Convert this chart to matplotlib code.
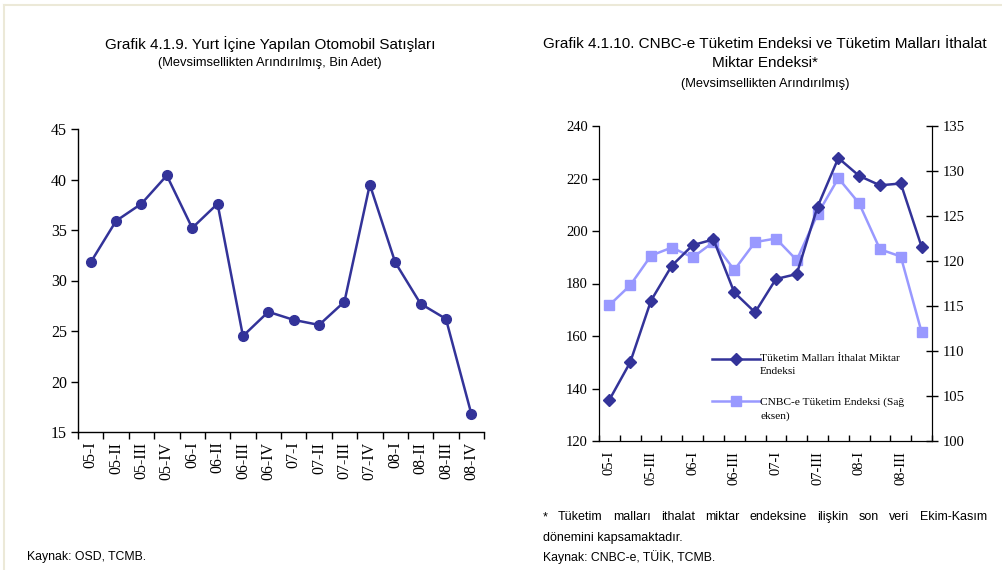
import matplotlib
matplotlib.use('Agg')
import matplotlib.pyplot as plt
from matplotlib.lines import Line2D
import numpy as np

# quarters for both charts
quarters = ['05-I', '05-II', '05-III', '05-IV', '06-I', '06-II', '06-III', '06-IV',
            '07-I', '07-II', '07-III', '07-IV', '08-I', '08-II', '08-III', '08-IV']

# Grafik 4.1.9 - otomobil satislari (bin adet)
otomobil = [31.8, 35.9, 37.6, 40.4, 35.2, 37.6, 24.5, 26.9,
            26.1, 25.6, 27.9, 39.5, 31.8, 27.7, 26.2, 16.8]

# Grafik 4.1.10
ithalat = [135.7, 150.0, 173.5, 186.8, 194.6, 196.8, 176.6, 169.0,
           181.7, 183.6, 209.2, 227.8, 221.0, 217.4, 218.1, 194.0]
cnbc = [115.1, 117.3, 120.6, 121.5, 120.4, 122.1, 119.0, 122.1,
        122.5, 120.1, 125.2, 129.2, 126.4, 121.3, 120.5, 112.1]

left_ticks = [15, 20, 25, 30, 35, 40, 45]
right_ticks_l = [120, 140, 160, 180, 200, 220, 240]
right_ticks_r = [100, 105, 110, 115, 120, 125, 130, 135]

dark = '#333399'
light = '#9999ff'
serif = ['Liberation Serif', 'DejaVu Serif']
sans = ['Liberation Sans', 'DejaVu Sans']

W, H = 1002, 570
fig = plt.figure(figsize=(W / 100, H / 100), dpi=100)
fig.patch.set_facecolor('white')

# thin beige frame at top/left edge
fig.add_artist(Line2D([4 / W, 1], [1 - 5 / H, 1 - 5 / H], color='#ece9d8', lw=1.5))
fig.add_artist(Line2D([4 / W, 4 / W], [0, 1 - 5 / H], color='#ece9d8', lw=1.5))


def box(x0, y0, x1, y1):
    return [x0 / W, 1 - y1 / H, (x1 - x0) / W, (y1 - y0) / H]


x = np.arange(len(quarters))

# ---- left chart ----
ax1 = fig.add_axes(box(78, 129, 484, 432))
ax1.plot(x, otomobil, color=dark, lw=1.8, marker='o', ms=7, mfc=dark, mec=dark)
ax1.set_xlim(-0.5, len(quarters) - 0.5)
ax1.set_ylim(15, 45)
ax1.set_yticks(left_ticks)
ax1.set_yticklabels([str(t) for t in left_ticks], family=serif, fontsize=11.5)
ax1.set_xticks(x)
ax1.set_xticklabels(quarters, rotation=90, family=serif, fontsize=11.5)
ax1.set_xticks(np.arange(-0.5, len(quarters)), minor=True)
ax1.tick_params(axis='x', which='major', length=0, pad=7)
ax1.tick_params(axis='x', which='minor', length=5, direction='out', width=1)
ax1.tick_params(axis='y', length=5, direction='out', width=1, pad=3)
for s in ['top', 'right']:
    ax1.spines[s].set_visible(False)
for s in ['left', 'bottom']:
    ax1.spines[s].set_linewidth(1)

# ---- right chart ----
ax2 = fig.add_axes(box(599, 126, 932, 441))
ax3 = ax2.twinx()
l1, = ax2.plot(x, ithalat, color=dark, lw=1.8, marker='D', ms=6.5, mfc=dark, mec=dark, zorder=3)
l2, = ax3.plot(x, cnbc, color=light, lw=1.8, marker='s', ms=7, mfc=light, mec=light, zorder=2)
ax2.set_zorder(ax3.get_zorder() + 1)
ax2.patch.set_visible(False)
ax2.set_xlim(-0.5, len(quarters) - 0.5)
ax2.set_ylim(120, 240)
ax3.set_ylim(100, 135)
ax2.set_yticks(right_ticks_l)
ax2.set_yticklabels([str(t) for t in right_ticks_l], family=serif, fontsize=10.5)
ax3.set_yticks(right_ticks_r)
ax3.set_yticklabels([str(t) for t in right_ticks_r], family=serif, fontsize=10.5)
ax2.set_xticks(x[::2])
ax2.set_xticklabels(quarters[::2], rotation=90, family=serif, fontsize=10.5)
ax2.set_xticks(np.arange(-0.5, len(quarters)), minor=True)
ax2.tick_params(axis='x', which='major', length=0, pad=7)
ax2.tick_params(axis='x', which='minor', length=4, direction='in', width=1)
ax2.tick_params(axis='y', length=5, direction='out', width=1, pad=3)
ax3.tick_params(axis='y', length=8, direction='inout', width=1, pad=4)
ax2.spines['top'].set_visible(False)
ax3.spines['top'].set_visible(False)

leg = ax2.legend([l1, l2],
                 ['Tüketim Malları İthalat Miktar\nEndeksi',
                  'CNBC-e Tüketim Endeksi (Sağ\neksen)'],
                 loc='upper left', bbox_to_anchor=(0.325, 0.31), frameon=False,
                 prop={'family': serif, 'size': 8.2}, handlelength=4.2,
                 handletextpad=0.05, labelspacing=1.75, borderaxespad=0)
# first text line level with the handle
for t in leg.get_texts():
    t.set_va('top')
    t.set_linespacing(1.6)
    t.set_y(14)

# ---- titles ----
fig.text(270 / W, 1 - 44 / H, 'Grafik 4.1.9. Yurt İçine Yapılan Otomobil Satışları',
         ha='center', va='center', family=sans, fontsize=11)
fig.text(270 / W, 1 - 63 / H, '(Mevsimsellikten Arındırılmış, Bin Adet)',
         ha='center', va='center', family=sans, fontsize=9.3)
fig.text(765 / W, 1 - 44 / H, 'Grafik 4.1.10. CNBC-e Tüketim Endeksi ve Tüketim Malları İthalat',
         ha='center', va='center', family=sans, fontsize=11)
fig.text(765 / W, 1 - 63 / H, 'Miktar Endeksi*',
         ha='center', va='center', family=sans, fontsize=11)
fig.text(765 / W, 1 - 84 / H, '(Mevsimsellikten Arındırılmış)',
         ha='center', va='center', family=sans, fontsize=9.3)

# ---- notes ----
fig.text(27 / W, 1 - 557 / H, 'Kaynak: OSD, TCMB.', ha='left', va='center',
         family=sans, fontsize=8.8)

# justified first footnote line
words = '* Tüketim malları ithalat miktar endeksine ilişkin son veri Ekim-Kasım'.split()
fig.canvas.draw()
r = fig.canvas.get_renderer()
texts = [fig.text(0, 1 - 517 / H, w, ha='left', va='center', family=sans, fontsize=9)
         for w in words]
widths = [t.get_window_extent(r).width for t in texts]
x0, x1 = 543, 987
gap = (x1 - x0 - sum(widths)) / (len(words) - 1)
pos = x0
for t, w in zip(texts, widths):
    t.set_x(pos / W)
    pos += w + gap
fig.text(x0 / W, 1 - 538 / H, 'dönemini kapsamaktadır.', ha='left', va='center',
         family=sans, fontsize=9)
fig.text(x0 / W, 1 - 557 / H, 'Kaynak: CNBC-e, TÜİK, TCMB.', ha='left', va='center',
         family=sans, fontsize=8.8)

fig.savefig('out.png', dpi=100)
